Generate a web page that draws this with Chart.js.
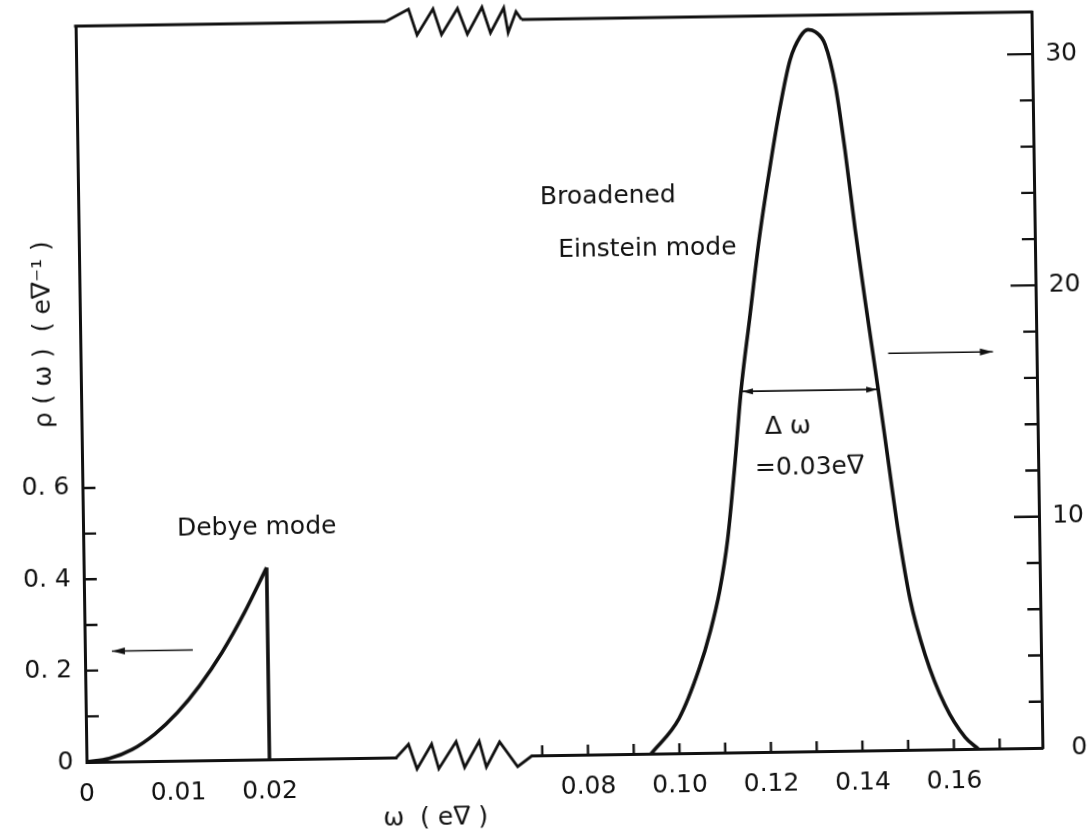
<!DOCTYPE html>
<html>
<head>
<meta charset="utf-8">
<title>Phonon density of states</title>
<script src="https://cdn.jsdelivr.net/npm/chart.js@4/dist/chart.umd.min.js"></script>
<style>
  html, body { margin: 0; padding: 0; background: #fff; }
  #sheet {
    position: absolute; left: 0; top: 0; width: 1091px; height: 832px;
    transform: rotate(-0.85deg); transform-origin: 559px 387px;
  }
  canvas { display: block; }
</style>
</head>
<body>
<div id="sheet"><canvas id="dos" width="1091" height="832"></canvas></div>
<script>
// ---- Debye branch, read against the left axis (eV^-1) ----
const debyeOmega = [0, 0.0025, 0.005, 0.0075, 0.01, 0.0125, 0.015, 0.0175, 0.02];
const debyeRho   = [0, 0.007, 0.026, 0.059, 0.105, 0.164, 0.236, 0.322, 0.42];
const debyeCutoffOmega = [0.02, 0.02];
const debyeCutoffRho   = [0.42, 0];

// ---- Broadened Einstein peak, read against the right axis ----
const einsteinOmega = [0.0938, 0.1000, 0.1045, 0.1072, 0.1093, 0.1112, 0.1129, 0.1146, 0.1167, 0.1191,
                       0.1216, 0.1240, 0.1264, 0.1287, 0.1304, 0.1320, 0.1341, 0.1362, 0.1381, 0.1401,
                       0.1420, 0.1446, 0.1465, 0.1485, 0.1509, 0.1540, 0.1582, 0.1625, 0.1653];
const einsteinRho   = [0, 1.5, 3.6, 5.3, 7.0, 9.2, 12.2, 15.6, 18.7, 22.2,
                       25.2, 27.8, 29.9, 30.9, 31.2, 31.1, 30.55, 28.8, 26.0, 22.5,
                       19.5, 15.6, 12.6, 9.5, 6.5, 4.1, 1.9, 0.5, 0];

// Full width at half maximum: 0.03 eV
const fwhmOmega = [0.1146, 0.1446];
const fwhmRho = 15.6;

// ---- Axis ticks ----
const lowOmegaTicks   = [0, 0.01, 0.02];
const lowOmegaLabels  = ['0', '0.01', '0.02'];
const highOmegaTicks  = [0.07, 0.08, 0.09, 0.10, 0.11, 0.12, 0.13, 0.14, 0.15, 0.16, 0.17];
const highOmegaLabels = ['', '0.08', '', '0.10', '', '0.12', '', '0.14', '', '0.16', ''];
const leftRhoTicks    = [0, 0.1, 0.2, 0.3, 0.4, 0.5, 0.6];
const leftRhoLabels   = ['0', '', '0. 2', '', '0. 4', '', '0. 6'];
const rightRhoTicks   = [0, 2, 4, 6, 8, 10, 12, 14, 16, 18, 20, 22, 24, 26, 28, 30];
const rightRhoLabels  = ['0', '', '', '', '', '10', '', '', '', '', '20', '', '', '', '', '30'];

// ---- Styling ----
const ink = '#111';
const fontFamily = "'DejaVu Sans', sans-serif";
const fontPx = 25;
const capHeight = 0.729 * fontPx;
Chart.defaults.font.family = fontFamily;
Chart.defaults.font.size = fontPx;
Chart.defaults.color = ink;

// Saw-tooth shapes for the axis break (fraction of gap width, vertical offset in px)
const breakShapeBottom = [[0,0],[0.09,-13],[0.15,12],[0.26,-13],[0.31,12],[0.44,-15],[0.5,11],
                          [0.61,-15],[0.66,11],[0.76,-14],[0.89,11],[1,0]];
const breakShapeTop    = [[0,0],[0.17,-12],[0.23,14],[0.35,-12],[0.41,14],[0.53,-12],[0.6,14],
                          [0.71,-13],[0.77,13],[0.87,-12],[0.9,13],[0.96,-8],[1,0]];

// Unit strings: a combining macron (\u0304) marks the barred V of "eV"
const BAR = '\u0304';
const omegaTitle = 'ω  ( eV' + BAR + ' )';
const rhoTitle = 'ρ ( ω )  ( eV' + BAR + '\u207B\u00B9 )';

// Text notes placed in data coordinates (y is the vertical centre of the capitals)
const notes = [
  { text: 'Debye mode',        x: 0.01026, y: 0.5128, xs: 'xLow',  ys: 'yLeft' },
  { text: 'Broadened',         x: 0.0713,  y: 24.2,   xs: 'xHigh', ys: 'yRight' },
  { text: 'Einstein mode',     x: 0.0751,  y: 21.94,  xs: 'xHigh', ys: 'yRight' },
  { text: 'Δ ω',               x: 0.1197,  y: 14.15,  xs: 'xHigh', ys: 'yRight' },
  { text: '=0.03eV' + BAR,     x: 0.1174,  y: 12.39,  xs: 'xHigh', ys: 'yRight' }
];
// Arrows pointing to the axis each curve belongs to
const axisArrows = [
  { from: [0.0118, 0.242], to: [0.00296, 0.242], xs: 'xLow',  ys: 'yLeft' },
  { from: [0.1469, 17.15], to: [0.1698, 17.15],  xs: 'xHigh', ys: 'yRight' }
];

function points(xs, ys) {
  return xs.map((x, i) => ({ x, y: Array.isArray(ys) ? ys[i] : ys }));
}
function fixedBox(size, horizontal) {
  return scale => {
    if (horizontal) scale.height = size; else scale.width = size;
    scale.paddingLeft = scale.paddingRight = scale.paddingTop = scale.paddingBottom = 0;
  };
}
function useTicks(values) {
  return scale => { scale.ticks = values.map(v => ({ value: v })); };
}
function labelsFrom(list) {
  return (value, index) => list[index];
}

// Draws a string on its alphabetic baseline; a character followed by BAR gets an over-bar
function barredText(ctx, str, x, y, align) {
  const plain = str.split(BAR).join('');
  const total = ctx.measureText(plain).width;
  let start = x;
  if (align === 'center') start = x - total / 2;
  else if (align === 'right') start = x - total;
  ctx.textAlign = 'left';
  ctx.textBaseline = 'alphabetic';
  ctx.fillText(plain, start, y);
  let idx = 0;
  for (let i = 0; i < str.length; i++) {
    if (str[i] === BAR) {
      const before = ctx.measureText(plain.slice(0, idx - 1)).width;
      const w = ctx.measureText(plain[idx - 1]).width;
      ctx.beginPath();
      ctx.lineWidth = 1.8;
      ctx.moveTo(start + before + 1, y - capHeight + 0.4);
      ctx.lineTo(start + before + w - 1, y - capHeight + 0.4);
      ctx.stroke();
    } else {
      idx++;
    }
  }
}

const noGrid = { display: false, drawTicks: false };
const axisLine = { display: true, width: 3, color: ink };

function arrowHead(ctx, x0, y0, x1, y1, len, half) {
  const ang = Math.atan2(y1 - y0, x1 - x0);
  ctx.beginPath();
  ctx.moveTo(x1, y1);
  ctx.lineTo(x1 - len * Math.cos(ang) + half * Math.sin(ang), y1 - len * Math.sin(ang) - half * Math.cos(ang));
  ctx.lineTo(x1 - len * Math.cos(ang) - half * Math.sin(ang), y1 - len * Math.sin(ang) + half * Math.cos(ang));
  ctx.closePath();
  ctx.fill();
}

function drawBreak(ctx, left, right, y, shape) {
  const w = right - left;
  ctx.beginPath();
  shape.forEach(([f, dy], i) => {
    const px = left + f * w, py = y + dy;
    if (i === 0) ctx.moveTo(px, py); else ctx.lineTo(px, py);
  });
  ctx.stroke();
}

const figureMarks = {
  id: 'figureMarks',
  afterDraw(chart) {
    const { ctx, chartArea: a, scales } = chart;
    const { xBreak, xHigh, yLeft, yRight } = scales;
    ctx.save();
    ctx.strokeStyle = ink;
    ctx.fillStyle = ink;
    ctx.lineJoin = 'miter';

    // top frame line, interrupted by the break
    ctx.lineWidth = 3;
    ctx.beginPath();
    ctx.moveTo(a.left - 1.5, a.top); ctx.lineTo(xBreak.left, a.top);
    ctx.moveTo(xBreak.right, a.top); ctx.lineTo(a.right + 1.5, a.top);
    ctx.stroke();
    ctx.lineWidth = 2.8;
    drawBreak(ctx, xBreak.left, xBreak.right, a.top, breakShapeTop);
    drawBreak(ctx, xBreak.left, xBreak.right, a.bottom, breakShapeBottom);

    // inward tick marks
    ctx.lineWidth = 2.4;
    ctx.beginPath();
    leftRhoTicks.forEach(v => {
      if (v === 0) return;
      const y = yLeft.getPixelForValue(v);
      ctx.moveTo(a.left, y); ctx.lineTo(a.left + 13, y);
    });
    rightRhoTicks.forEach(v => {
      if (v === 0) return;
      const y = yRight.getPixelForValue(v);
      const len = Math.round(v) % 10 === 0 ? 25 : 13;
      ctx.moveTo(a.right, y); ctx.lineTo(a.right - len, y);
    });
    highOmegaTicks.forEach(v => {
      const x = xHigh.getPixelForValue(v);
      ctx.moveTo(x, a.bottom); ctx.lineTo(x, a.bottom - 10);
    });
    ctx.stroke();

    // arrows toward the relevant axis
    ctx.lineWidth = 1.6;
    axisArrows.forEach(ar => {
      const xs = scales[ar.xs], ys = scales[ar.ys];
      const x0 = xs.getPixelForValue(ar.from[0]), y0 = ys.getPixelForValue(ar.from[1]);
      const x1 = xs.getPixelForValue(ar.to[0]),   y1 = ys.getPixelForValue(ar.to[1]);
      ctx.beginPath(); ctx.moveTo(x0, y0); ctx.lineTo(x1, y1); ctx.stroke();
      arrowHead(ctx, x0, y0, x1, y1, 13, 3.5);
    });

    // FWHM double arrow
    const fx0 = xHigh.getPixelForValue(fwhmOmega[0]);
    const fx1 = xHigh.getPixelForValue(fwhmOmega[1]);
    const fy = yRight.getPixelForValue(fwhmRho);
    ctx.beginPath(); ctx.moveTo(fx0, fy); ctx.lineTo(fx1, fy); ctx.stroke();
    arrowHead(ctx, fx1, fy, fx0 + 1, fy, 11, 3);
    arrowHead(ctx, fx0, fy, fx1 - 1, fy, 11, 3);

    // text notes
    ctx.font = `${fontPx}px ${fontFamily}`;
    notes.forEach(n => {
      const x = scales[n.xs].getPixelForValue(n.x);
      const y = scales[n.ys].getPixelForValue(n.y) + capHeight / 2;
      barredText(ctx, n.text, x, y, 'left');
    });

    // axis titles
    barredText(ctx, omegaTitle, xBreak.left - 14, a.bottom + 68, 'left');
    ctx.save();
    ctx.translate(a.left - 30, (a.top + a.bottom) / 2 - 60);
    ctx.rotate(-Math.PI / 2);
    barredText(ctx, rhoTitle, 0, 0, 'center');
    ctx.restore();

    ctx.restore();
  }
};

const curveStyle = {
  borderColor: ink, borderWidth: 3.6, pointRadius: 0, fill: false, clip: false
};

new Chart(document.getElementById('dos'), {
  type: 'line',
  data: {
    datasets: [
      { ...curveStyle, label: 'Debye mode', data: points(debyeOmega, debyeRho),
        xAxisID: 'xLow', yAxisID: 'yLeft', cubicInterpolationMode: 'monotone' },
      { ...curveStyle, label: 'Debye cutoff', data: points(debyeCutoffOmega, debyeCutoffRho),
        xAxisID: 'xLow', yAxisID: 'yLeft', tension: 0 },
      { ...curveStyle, label: 'Broadened Einstein mode', data: points(einsteinOmega, einsteinRho),
        xAxisID: 'xHigh', yAxisID: 'yRight', cubicInterpolationMode: 'monotone' }
    ]
  },
  options: {
    responsive: false,
    animation: false,
    events: [],
    layout: { padding: { top: 19, left: 0, right: 9, bottom: 0 } },
    plugins: { legend: { display: false }, tooltip: { enabled: false } },
    scales: {
      xLow: {
        type: 'linear', position: 'bottom', stack: 'omega', stackWeight: 310,
        min: 0, max: 0.03388, bounds: 'data',
        grid: noGrid, border: axisLine,
        ticks: { autoSkip: false, maxRotation: 0, minRotation: 0, padding: 17, callback: labelsFrom(lowOmegaLabels) },
        afterBuildTicks: useTicks(lowOmegaTicks),
        afterFit: fixedBox(77, true)
      },
      xBreak: {
        type: 'linear', position: 'bottom', stack: 'omega', stackWeight: 136,
        min: 0, max: 1, bounds: 'data',
        grid: noGrid, border: { display: false }, ticks: { display: false },
        afterFit: fixedBox(77, true)
      },
      xHigh: {
        type: 'linear', position: 'bottom', stack: 'omega', stackWeight: 510,
        min: 0.06785, max: 0.17933, bounds: 'data',
        grid: noGrid, border: axisLine,
        ticks: { autoSkip: false, maxRotation: 0, minRotation: 0, padding: 17, callback: labelsFrom(highOmegaLabels) },
        afterBuildTicks: useTicks(highOmegaTicks),
        afterFit: fixedBox(77, true)
      },
      yLeft: {
        type: 'linear', position: 'left', min: 0, max: 1.6116, bounds: 'data',
        grid: noGrid, border: axisLine,
        ticks: { autoSkip: false, padding: 13, callback: labelsFrom(leftRhoLabels) },
        afterBuildTicks: useTicks(leftRhoTicks),
        afterFit: fixedBox(81, false)
      },
      yRight: {
        type: 'linear', position: 'right', min: 0, max: 31.82, bounds: 'data',
        grid: noGrid, border: axisLine,
        ticks: { autoSkip: false, padding: 0, crossAlign: 'far', callback: labelsFrom(rightRhoLabels) },
        afterBuildTicks: useTicks(rightRhoTicks),
        afterFit: fixedBox(45, false)
      }
    }
  },
  plugins: [figureMarks]
});
</script>
</body>
</html>
